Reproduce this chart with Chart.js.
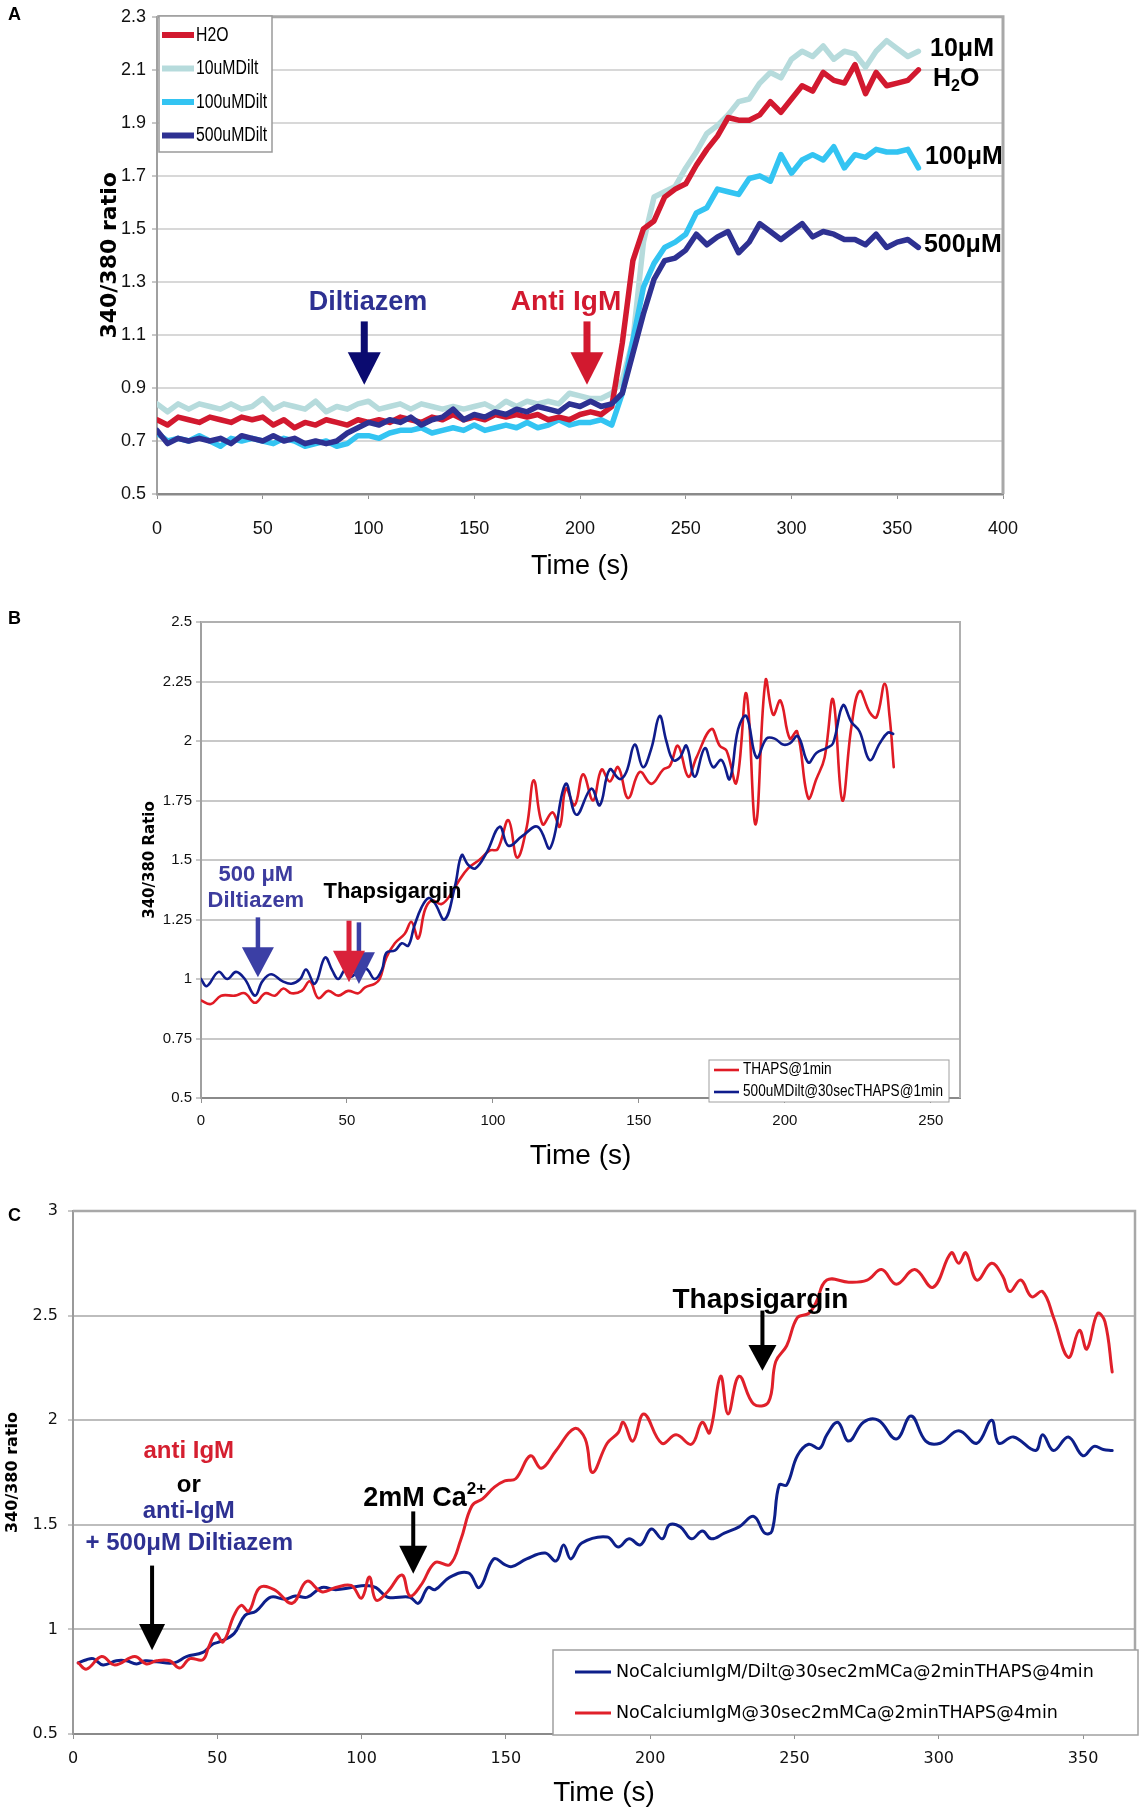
<!DOCTYPE html>
<html><head><meta charset="utf-8">
<script src="https://cdn.jsdelivr.net/npm/chart.js@4.4.0/dist/chart.umd.min.js"></script>
<style>
html,body{margin:0;padding:0;background:#fff;}
#page{position:relative;width:1142px;height:1819px;overflow:hidden;background:#fff;}
#page canvas{position:absolute;left:0;}
.plab{position:absolute;left:8px;font:bold 18px 'Liberation Sans',Arial,sans-serif;color:#000;}
</style></head><body>
<div id="page">
<canvas id="cA" width="1142" height="600" style="top:0;width:1142px;height:600px"></canvas>
<canvas id="cB" width="1142" height="590" style="top:600px;width:1142px;height:590px"></canvas>
<canvas id="cC" width="1142" height="629" style="top:1190px;width:1142px;height:629px"></canvas>
<div class="plab" style="top:4px">A</div>
<div class="plab" style="top:608px">B</div>
<div class="plab" style="top:1205px">C</div>
</div>
<script>
// ---------------- Panel A data ----------------
const timeA = [0,5,10,15,20,25,30,35,40,45,50,55,60,65,70,75,80,85,90,95,100,105,110,115,120,125,130,135,140,145,150,155,160,165,170,175,180,185,190,195,200,205,210,215,220,225,230,235,240,245,250,255,260,265,270,275,280,285,290,295,300,305,310,315,320,325,330,335,340,345,350,355,360];
const h2oA = [0.78,0.76,0.79,0.78,0.77,0.79,0.78,0.77,0.79,0.78,
  0.79,0.76,0.78,0.75,0.77,0.76,0.78,0.77,0.76,0.78,
  0.77,0.78,0.77,0.79,0.78,0.77,0.79,0.78,0.80,0.78,
  0.79,0.78,0.80,0.79,0.80,0.79,0.80,0.78,0.79,0.78,
  0.80,0.81,0.80,0.83,1.07,1.38,1.50,1.53,1.62,1.65,
  1.67,1.74,1.80,1.85,1.92,1.91,1.91,1.93,1.98,1.94,
  1.99,2.04,2.02,2.09,2.06,2.05,2.12,2.01,2.09,2.04,
  2.05,2.06,2.10];
const dilt10A = [0.84,0.81,0.84,0.82,0.84,0.83,0.82,0.84,0.82,0.83,
  0.86,0.82,0.84,0.83,0.82,0.85,0.81,0.83,0.82,0.84,
  0.85,0.82,0.83,0.84,0.82,0.84,0.83,0.82,0.83,0.82,
  0.83,0.84,0.82,0.85,0.83,0.85,0.84,0.85,0.84,0.88,
  0.87,0.86,0.86,0.88,0.93,1.08,1.45,1.62,1.64,1.66,
  1.73,1.79,1.86,1.89,1.93,1.98,1.99,2.05,2.09,2.07,
  2.14,2.17,2.15,2.19,2.14,2.17,2.16,2.11,2.17,2.21,
  2.18,2.15,2.17];
const dilt100A = [0.73,0.70,0.71,0.70,0.72,0.70,0.68,0.71,0.70,0.71,
  0.70,0.69,0.71,0.70,0.68,0.69,0.70,0.68,0.69,0.72,
  0.72,0.71,0.73,0.74,0.74,0.75,0.73,0.74,0.75,0.74,
  0.76,0.74,0.75,0.76,0.75,0.77,0.75,0.76,0.78,0.76,
  0.77,0.77,0.78,0.76,0.88,1.08,1.28,1.37,1.43,1.45,
  1.48,1.56,1.58,1.65,1.64,1.63,1.69,1.70,1.68,1.78,
  1.71,1.76,1.78,1.76,1.81,1.73,1.78,1.77,1.80,1.79,
  1.79,1.80,1.73];
const dilt500A = [0.74,0.69,0.71,0.70,0.71,0.70,0.71,0.69,0.72,0.71,
  0.70,0.72,0.70,0.71,0.69,0.70,0.69,0.70,0.73,0.75,
  0.77,0.76,0.78,0.77,0.79,0.76,0.78,0.79,0.82,0.78,
  0.80,0.79,0.81,0.80,0.82,0.81,0.83,0.82,0.81,0.84,
  0.83,0.85,0.83,0.84,0.88,1.03,1.18,1.31,1.38,1.39,
  1.42,1.48,1.44,1.47,1.49,1.41,1.45,1.52,1.49,1.46,
  1.49,1.52,1.47,1.49,1.48,1.46,1.46,1.44,1.48,1.43,
  1.45,1.46,1.43];
const xTicksA = [0,50,100,150,200,250,300,350,400];
const yTicksA = [0.5,0.7,0.9,1.1,1.3,1.5,1.7,1.9,2.1,2.3];

// ---------------- Panel B data ----------------
const timeB_thaps = [0,3.4,6.9,11.6,15,18.5,22,25.3,28.2,31,34.5,37.3,40.2,43.6,47,50.4,53.9,56.2,59.5,61.2,63.5,66.4,69.8,72.1,74.4,76.7,79,82.4,85.8,88.2,91.5,95.3,99,101.6,105.3,108.3,111.6,114,117,120.4,122.9,125,128,130.9,134.3,137.2,140,142.9,146.3,150.3,154.3,158.3,160.6,163.4,166.9,169.7,174.8,177.7,180,183.4,186.8,190,193.4,196,198.5,201.7,204.2,208,210.8,213.6,216.5,219.7,222.8,225.6,229.1,231.4,234.2,235.9,237.3];
const thapsB = [0.91,0.895,0.93,0.93,0.94,0.90,0.94,0.93,0.96,0.94,0.95,0.99,0.92,0.95,0.93,0.95,0.94,0.965,0.98,1.0,1.09,1.15,1.19,1.24,1.17,1.29,1.33,1.315,1.36,1.41,1.465,1.50,1.54,1.545,1.667,1.51,1.64,1.835,1.65,1.70,1.64,1.80,1.73,1.86,1.75,1.88,1.83,1.89,1.76,1.87,1.82,1.88,1.895,1.98,1.85,1.93,2.05,1.98,1.96,1.825,2.20,1.65,2.255,2.11,2.17,2.01,2.04,1.76,1.84,1.93,2.175,1.75,2.06,2.21,2.12,2.10,2.24,2.10,1.89];
const timeB_dilt = [0,2,6,9,12,15,18.5,21,24,28,31,34,36,39,42.5,45,47,49.5,51.5,55,57,59.5,62,63.5,66.5,68.8,71,73,75.5,78,80,83.5,87,89.3,91.5,94,97.8,102.3,105.3,110,115.3,119.6,124.9,128.6,133.7,136.6,140,143.4,145.7,148.6,151.4,154.3,157.1,159.4,161.7,164,166.3,169.1,172.6,175.4,178.3,181.1,184,186.8,190.3,193.7,196.5,199.4,201.7,204.5,208,210.8,214.2,216.5,219.9,222.8,225.6,229.1,232.5,235.3,237.1];
const diltB = [1.0,0.97,1.03,1.0,1.03,1.0,0.93,0.99,1.02,0.99,0.98,1.0,1.04,0.98,1.09,1.035,1.0,1.04,1.01,1.05,1.04,1.0,1.04,1.11,1.12,1.15,1.14,1.22,1.30,1.34,1.32,1.25,1.39,1.52,1.48,1.465,1.53,1.64,1.56,1.60,1.64,1.55,1.82,1.69,1.80,1.73,1.88,1.84,1.87,1.985,1.89,1.97,2.105,2.0,1.92,1.93,1.98,1.85,1.97,1.89,1.92,1.84,2.05,2.105,1.93,2.01,2.01,1.985,1.99,2.02,1.91,1.95,1.97,1.99,2.15,2.08,2.04,1.92,1.99,2.035,2.03];
const xTicksB = [0,50,100,150,200,250];
const yTicksB = [0.5,0.75,1,1.25,1.5,1.75,2,2.25,2.5];

// ---------------- Panel C data ----------------
const timeC_igm = [1.8,4.7,9.9,14.5,21.4,25.4,29,33.5,37,40.5,45,47,49.5,52,55.8,58.3,60.9,64.7,69.7,76,81,86.2,91,96.4,100,102.7,105,109,114,116.7,120.5,125.5,130.6,134.4,138.2,142,146,149.6,153.4,158.5,162.3,167.4,173.7,177.5,180,185.1,188.9,190.7,194,197.8,204,209,214.3,218,220.6,224.4,227,230.8,235.9,241,243.5,247.3,251,254.9,257.4,261.2,268.8,275.2,280.2,285.3,291.7,298,304.3,306.9,309.4,313.2,318.3,322.1,324.6,328.4,332.2,336,339.8,344.9,348.7,351.3,355,357.6,360.1];
const igmC = [0.84,0.81,0.87,0.83,0.87,0.835,0.85,0.85,0.815,0.86,0.855,0.915,0.98,0.94,1.067,1.115,1.087,1.20,1.19,1.125,1.23,1.18,1.20,1.21,1.15,1.25,1.14,1.18,1.26,1.16,1.21,1.32,1.31,1.43,1.59,1.625,1.68,1.71,1.72,1.83,1.77,1.855,1.96,1.91,1.75,1.89,1.94,1.99,1.90,2.03,1.89,1.93,1.885,1.99,1.94,2.21,2.03,2.21,2.077,2.087,2.28,2.356,2.49,2.51,2.56,2.67,2.66,2.67,2.72,2.65,2.72,2.635,2.80,2.75,2.80,2.67,2.75,2.69,2.615,2.67,2.59,2.615,2.49,2.30,2.43,2.34,2.51,2.47,2.23];
const timeC_dilt = [1.8,4.7,7,10.4,15,18.5,22,25,29,35,39.3,45,48.5,50.7,55.8,59.6,63.4,68.5,73.5,77,81.2,86.2,91,96.4,101.4,105,109,116.7,119.7,123,125.5,130.6,137,140.8,145.8,149.6,152,157.2,163.6,167.4,170,172.5,176.3,185.1,188.9,192.7,196.6,200.4,204.2,206.7,210.5,214.3,218.1,221.2,225.7,230.8,235.9,239.7,242.2,244.7,247.3,251,254.9,258.7,261.2,265,268.8,273.9,279,285.3,290.4,295.5,300.5,306.9,313.2,318.3,320.8,325.9,333.5,336,339.8,344.9,350,353.8,357,360.1];
const diltC = [0.84,0.855,0.86,0.83,0.85,0.85,0.835,0.85,0.845,0.84,0.87,0.89,0.93,0.94,0.98,1.067,1.087,1.154,1.144,1.16,1.154,1.20,1.19,1.20,1.21,1.20,1.154,1.154,1.125,1.20,1.19,1.25,1.27,1.20,1.337,1.31,1.30,1.337,1.365,1.327,1.404,1.337,1.413,1.442,1.394,1.433,1.404,1.48,1.433,1.50,1.49,1.433,1.47,1.433,1.46,1.49,1.54,1.46,1.47,1.69,1.69,1.83,1.885,1.865,1.93,1.99,1.90,1.99,2.0,1.91,2.02,1.90,1.89,1.95,1.89,2.0,1.89,1.92,1.855,1.93,1.855,1.92,1.83,1.875,1.86,1.855];
const xTicksC = [0,50,100,150,200,250,300,350];
const yTicksC = [0.5,1,1.5,2,2.5,3];

// ---------------- helpers ----------------
const ARIAL = "'Liberation Sans',Arial,sans-serif";
const VERD = "'DejaVu Sans',Verdana,sans-serif";
const pts = (ts, vs) => ts.map((t, i) => ({x: t, y: vs[i]}));

const framePlugin = {
  id: 'frame',
  afterDraw(chart, args, o) {
    const {ctx, chartArea: a} = chart;
    ctx.save();
    ctx.strokeStyle = o.color; ctx.lineWidth = o.width;
    ctx.beginPath();
    ctx.moveTo(a.left, a.top); ctx.lineTo(a.right, a.top); ctx.lineTo(a.right, a.bottom);
    ctx.stroke();
    ctx.restore();
  }
};

function drawRich(ctx, segs, x, y, f, align) {
  const main = f.weight + ' ' + f.size + 'px ' + f.family;
  const small = f.weight + ' ' + Math.round(f.size * 0.62) + 'px ' + f.family;
  const widths = segs.map(s => { ctx.font = s[1] ? small : main; return ctx.measureText(s[0]).width; });
  const total = widths.reduce((p, q) => p + q, 0);
  let cx = align === 'center' ? x - total / 2 : (align === 'right' ? x - total : x);
  ctx.textAlign = 'left'; ctx.textBaseline = 'middle';
  segs.forEach((s, i) => {
    ctx.font = s[1] ? small : main;
    const dy = s[1] === 'sub' ? f.size * 0.3 : (s[1] === 'sup' ? -f.size * 0.33 : 0);
    ctx.fillText(s[0], cx, y + dy);
    cx += widths[i];
  });
}

const notesPlugin = {
  id: 'notes',
  afterDatasetsDraw(chart, args, o) {
    const {ctx} = chart; const xs = chart.scales.x, ys = chart.scales.y;
    ctx.save();
    (o.arrows || []).forEach(a => {
      const px = xs.getPixelForValue(a.t);
      const y0 = ys.getPixelForValue(a.from), y1 = ys.getPixelForValue(a.to), yh = ys.getPixelForValue(a.head);
      ctx.fillStyle = a.color;
      ctx.fillRect(px - a.shaft / 2, y0, a.shaft, yh - y0 + 1);
      ctx.beginPath();
      ctx.moveTo(px - a.headW / 2, yh); ctx.lineTo(px + a.headW / 2, yh); ctx.lineTo(px, y1);
      ctx.closePath(); ctx.fill();
    });
    (o.texts || []).forEach(tx => {
      ctx.fillStyle = tx.color;
      const segs = Array.isArray(tx.text) ? tx.text : [[tx.text, '']];
      drawRich(ctx, segs, xs.getPixelForValue(tx.t), ys.getPixelForValue(tx.v), tx.font, tx.align || 'center');
    });
    ctx.restore();
  }
};

const boxLegendPlugin = {
  id: 'boxLegend',
  afterDraw(chart, args, o) {
    if (!o || !o.box) return;
    const ctx = chart.ctx, b = o.box;
    ctx.save();
    ctx.fillStyle = '#fff'; ctx.fillRect(b.x, b.y, b.w, b.h);
    ctx.strokeStyle = o.border; ctx.lineWidth = o.borderWidth;
    ctx.strokeRect(b.x, b.y, b.w, b.h);
    o.order.forEach((di, k) => {
      const ds = chart.data.datasets[di];
      const cy = b.y + o.firstRow + k * o.rowGap;
      ctx.strokeStyle = ds.borderColor; ctx.lineWidth = o.sampleWidth; ctx.lineCap = 'butt';
      ctx.beginPath(); ctx.moveTo(b.x + o.sampleX, cy); ctx.lineTo(b.x + o.sampleX + o.sampleLen, cy); ctx.stroke();
      ctx.save();
      ctx.translate(b.x + o.textX, cy);
      ctx.scale(o.squeeze || 1, 1);
      ctx.fillStyle = '#000'; ctx.font = o.font; ctx.textBaseline = 'middle'; ctx.textAlign = 'left';
      ctx.fillText(ds.label, 0, 0);
      ctx.restore();
    });
    ctx.restore();
  }
};

function axis(opts) {
  return {
    type: 'linear', min: opts.min, max: opts.max,
    afterBuildTicks: s => { s.ticks = opts.ticks.map(v => ({value: v})); },
    afterFit: s => { if (opts.isX) s.height = opts.size; else s.width = opts.size; },
    grid: {display: true, drawOnChartArea: !opts.isX, drawTicks: true, tickLength: 5,
           color: opts.gridColor, lineWidth: opts.gridWidth, tickColor: opts.tickColor || opts.gridColor, tickWidth: 1},
    border: {display: true, color: opts.borderColor, width: opts.borderWidth},
    ticks: {font: opts.tickFont, color: '#111', padding: opts.tickPad, maxRotation: 0, autoSkip: false,
            callback: v => String(v)},
    title: {display: true, text: opts.title, font: opts.titleFont, color: '#000', padding: opts.titlePad}
  };
}

function lineDs(label, data, color, width, tension) {
  return {label, data, borderColor: color, backgroundColor: color, borderWidth: width,
          pointRadius: 0, tension, fill: false, borderJoinStyle: 'round', borderCapStyle: 'round'};
}

const common = {responsive: false, animation: false, devicePixelRatio: 1};

// ---------------- Chart A ----------------
new Chart(document.getElementById('cA'), {
  type: 'line',
  data: {datasets: [
    lineDs('500uMDilt', pts(timeA, dilt500A), '#2e3192', 5.5, 0),
    lineDs('H2O', pts(timeA, h2oA), '#d2192f', 5.5, 0),
    lineDs('100uMDilt', pts(timeA, dilt100A), '#33c4f2', 5.5, 0),
    lineDs('10uMDilt', pts(timeA, dilt10A), '#b6dbdc', 5.5, 0)
  ]},
  options: Object.assign({}, common, {
    layout: {padding: {left: 97, top: 16, right: 139, bottom: 0}},
    scales: {
      x: axis({isX: true, min: 0, max: 400, ticks: xTicksA, size: 106, gridColor: '#909090', gridWidth: 1,
               borderColor: '#8a8a8a', borderWidth: 2.5, tickFont: {family: ARIAL, size: 18}, tickPad: 19,
               title: 'Time (s)', titleFont: {family: ARIAL, size: 27}, titlePad: {top: 0, bottom: 17}}),
      y: axis({isX: false, min: 0.5, max: 2.3, ticks: yTicksA, size: 60, gridColor: '#d8d8d8', gridWidth: 2,
               tickColor: '#909090', borderColor: '#a0a0a0', borderWidth: 2, tickFont: {family: ARIAL, size: 18}, tickPad: 6,
               title: '340/380 ratio', titleFont: {family: VERD, size: 22, weight: 'bold'}, titlePad: {top: 0, bottom: 0}})
    },
    plugins: {
      legend: {display: false}, tooltip: {enabled: false},
      frame: {color: '#a8a8a8', width: 3},
      boxLegend: {box: {x: 159, y: 16, w: 113, h: 136}, border: '#9a9a9a', borderWidth: 1.5,
                  order: [1, 3, 2, 0], firstRow: 19, rowGap: 33.5, sampleX: 3, sampleLen: 32, sampleWidth: 6,
                  textX: 37, font: '20px ' + ARIAL, squeeze: 0.79},
      notes: {
        arrows: [
          {t: 98, from: 1.151, head: 1.035, to: 0.912, color: '#0b0b70', shaft: 7, headW: 33},
          {t: 203.3, from: 1.151, head: 1.035, to: 0.912, color: '#d2192f', shaft: 7, headW: 33}
        ],
        texts: [
          {t: 99.8, v: 1.223, text: 'Diltiazem', color: '#2e3192', font: {family: ARIAL, size: 27, weight: 'bold'}},
          {t: 193.4, v: 1.223, text: 'Anti IgM', color: '#d2192f', font: {family: ARIAL, size: 28, weight: 'bold'}},
          {t: 365.5, v: 2.179, text: '10μM', color: '#000', align: 'left', font: {family: ARIAL, size: 25, weight: 'bold'}},
          {t: 366.9, v: 2.066, text: [['H', ''], ['2', 'sub'], ['O', '']], color: '#000', align: 'left', font: {family: ARIAL, size: 25, weight: 'bold'}},
          {t: 363.1, v: 1.771, text: '100μM', color: '#000', align: 'left', font: {family: ARIAL, size: 25, weight: 'bold'}},
          {t: 362.6, v: 1.437, text: '500μM', color: '#000', align: 'left', font: {family: ARIAL, size: 25, weight: 'bold'}}
        ]
      }
    }
  }),
  plugins: [framePlugin, notesPlugin, boxLegendPlugin]
});

// ---------------- Chart B ----------------
new Chart(document.getElementById('cB'), {
  type: 'line',
  data: {datasets: [
    lineDs('500uMDilt@30secTHAPS@1min', pts(timeB_dilt, diltB), '#0f1c8c', 2.6, 0.4),
    lineDs('THAPS@1min', pts(timeB_thaps, thapsB), '#e01b25', 2.6, 0.4)
  ]},
  options: Object.assign({}, common, {
    layout: {padding: {left: 141, top: 22, right: 182, bottom: 0}},
    scales: {
      x: axis({isX: true, min: 0, max: 260, ticks: xTicksB, size: 92, gridColor: '#909090', gridWidth: 1,
               borderColor: '#8a8a8a', borderWidth: 2, tickFont: {family: ARIAL, size: 15}, tickPad: 9,
               title: 'Time (s)', titleFont: {family: ARIAL, size: 28}, titlePad: {top: 0, bottom: 17}}),
      y: axis({isX: false, min: 0.5, max: 2.5, ticks: yTicksB, size: 60, gridColor: '#c8c8c8', gridWidth: 2,
               tickColor: '#909090', borderColor: '#a0a0a0', borderWidth: 2, tickFont: {family: ARIAL, size: 15}, tickPad: 4,
               title: '340/380 Ratio', titleFont: {family: VERD, size: 15, weight: 'bold'}, titlePad: {top: 0, bottom: 0}})
    },
    plugins: {
      legend: {display: false}, tooltip: {enabled: false},
      frame: {color: '#b0b0b0', width: 2},
      boxLegend: {box: {x: 709, y: 460, w: 240, h: 42}, border: '#a0a0a0', borderWidth: 1,
                  order: [1, 0], firstRow: 10, rowGap: 22, sampleX: 5, sampleLen: 25, sampleWidth: 2.6,
                  textX: 34, font: '16px ' + ARIAL, squeeze: 0.85},
      notes: {
        arrows: [
          {t: 19.5, from: 1.259, head: 1.133, to: 1.007, color: '#3b3fa5', shaft: 4.5, headW: 32},
          {t: 54.1, from: 1.238, head: 1.112, to: 0.979, color: '#3b3fa5', shaft: 4.5, headW: 32},
          {t: 50.7, from: 1.245, head: 1.119, to: 0.986, color: '#d9213a', shaft: 5, headW: 32}
        ],
        texts: [
          {t: 18.8, v: 1.438, text: '500 μM', color: '#3d3c9e', font: {family: ARIAL, size: 22, weight: 'bold'}},
          {t: 18.8, v: 1.33, text: 'Diltiazem', color: '#3d3c9e', font: {family: ARIAL, size: 22, weight: 'bold'}},
          {t: 65.6, v: 1.365, text: 'Thapsigargin', color: '#000', font: {family: ARIAL, size: 22, weight: 'bold'}}
        ]
      }
    }
  }),
  plugins: [framePlugin, notesPlugin, boxLegendPlugin]
});

// ---------------- Chart C ----------------
new Chart(document.getElementById('cC'), {
  type: 'line',
  data: {datasets: [
    lineDs('NoCalciumIgM@30sec2mMCa@2minTHAPS@4min', pts(timeC_igm, igmC), '#e0202a', 3, 0.4),
    lineDs('NoCalciumIgM/Dilt@30sec2mMCa@2minTHAPS@4min', pts(timeC_dilt, diltC), '#0d1f8a', 3, 0.4)
  ]},
  options: Object.assign({}, common, {
    layout: {padding: {left: 3, top: 21, right: 7, bottom: 0}},
    scales: {
      x: axis({isX: true, min: 0, max: 368, ticks: xTicksC, size: 85, gridColor: '#909090', gridWidth: 1,
               borderColor: '#8a8a8a', borderWidth: 2, tickFont: {family: VERD, size: 16}, tickPad: 10,
               title: 'Time (s)', titleFont: {family: ARIAL, size: 28}, titlePad: {top: 0, bottom: 9}}),
      y: axis({isX: false, min: 0.5, max: 3, ticks: yTicksC, size: 70, gridColor: '#bdbdbd', gridWidth: 2,
               tickColor: '#909090', borderColor: '#9a9a9a', borderWidth: 2, tickFont: {family: VERD, size: 16}, tickPad: 10,
               title: '340/380 ratio', titleFont: {family: VERD, size: 16, weight: 'bold'}, titlePad: {top: 0, bottom: 0}})
    },
    plugins: {
      legend: {display: false}, tooltip: {enabled: false},
      frame: {color: '#a8a8a8', width: 2.5},
      boxLegend: {box: {x: 553, y: 460, w: 585, h: 85}, border: '#a0a0a0', borderWidth: 1.5,
                  order: [1, 0], firstRow: 22, rowGap: 41, sampleX: 22, sampleLen: 36, sampleWidth: 3,
                  textX: 63, font: '17.5px ' + VERD},
      notes: {
        arrows: [
          {t: 27.4, from: 1.305, head: 1.026, to: 0.90, color: '#000', shaft: 4, headW: 26},
          {t: 117.9, from: 1.564, head: 1.40, to: 1.266, color: '#000', shaft: 4, headW: 28},
          {t: 238.9, from: 2.524, head: 2.36, to: 2.236, color: '#000', shaft: 4, headW: 28}
        ],
        texts: [
          {t: 40.1, v: 1.849, text: 'anti IgM', color: '#d51f30', font: {family: ARIAL, size: 24, weight: 'bold'}},
          {t: 40.1, v: 1.69, text: 'or', color: '#000', font: {family: ARIAL, size: 24, weight: 'bold'}},
          {t: 40.1, v: 1.562, text: 'anti-IgM', color: '#2e3192', font: {family: ARIAL, size: 24, weight: 'bold'}},
          {t: 40.3, v: 1.41, text: '+ 500μM Diltiazem', color: '#2e3192', font: {family: ARIAL, size: 24, weight: 'bold'}},
          {t: 121.9, v: 1.625, text: [['2mM Ca', ''], ['2+', 'sup']], color: '#000', font: {family: ARIAL, size: 27, weight: 'bold'}},
          {t: 238.2, v: 2.575, text: 'Thapsigargin', color: '#000', font: {family: ARIAL, size: 28, weight: 'bold'}}
        ]
      }
    }
  }),
  plugins: [framePlugin, notesPlugin, boxLegendPlugin]
});
</script>
</body></html>
